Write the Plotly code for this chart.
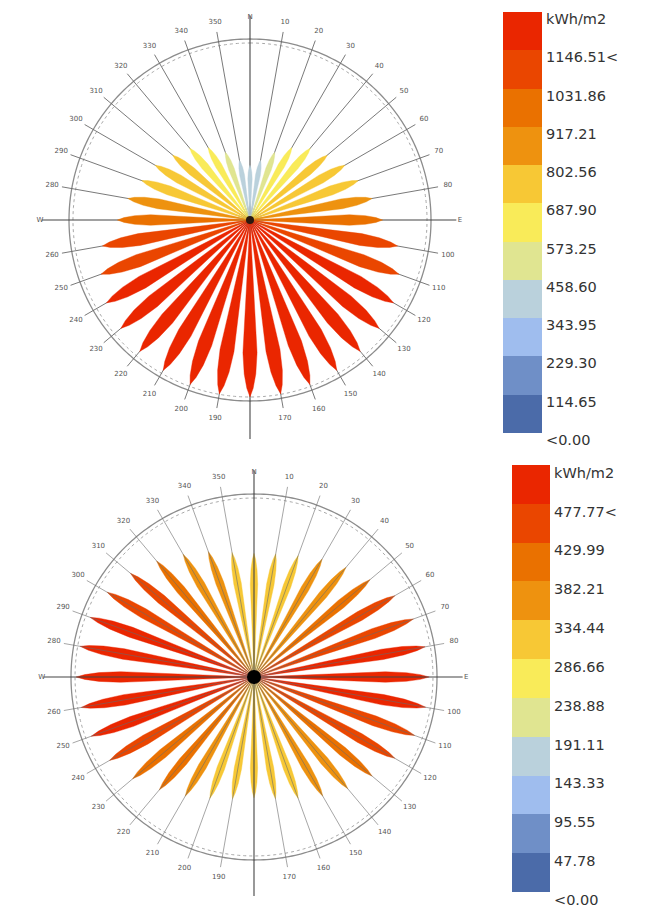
import numpy as np
import plotly.graph_objects as go

# ---------------- data ----------------
directions = list(range(0, 360, 10))
cardinals = {0: "N", 90: "E", 180: "S", 270: "W"}
dir_labels = [cardinals.get(d, str(d)) for d in directions]

# upper rose (clockwise from North, every 10 degrees)
top_values = [380, 420, 500, 580, 650, 700, 760, 800, 860, 920, 1040, 1100,
              1150, 1170, 1190, 1205, 1215, 1225, 1228, 1225, 1215, 1205, 1190, 1170,
              1150, 1100, 1040, 920, 860, 800, 760, 700, 650, 580, 500, 420]
top_bounds = [0.00, 114.65, 229.30, 343.95, 458.60, 573.25, 687.90, 802.56,
              917.21, 1031.86, 1146.51]

# lower rose
bottom_values = [300, 305, 320, 345, 370, 400, 440, 465, 480, 485, 482, 470,
                 440, 410, 380, 350, 320, 300, 290, 300, 320, 350, 385, 425,
                 455, 478, 486, 495, 490, 482, 465, 435, 400, 365, 335, 310]
bottom_bounds = [0.00, 47.78, 95.55, 143.33, 191.11, 238.88, 286.66, 334.44,
                 382.21, 429.99, 477.77]

unit_label = "kWh/m2"

# ---------------- style ----------------
BIN_COLORS = ["rgb(75,107,169)", "rgb(111,143,199)", "rgb(159,189,238)",
              "rgb(186,209,220)", "rgb(224,229,145)", "rgb(249,235,89)",
              "rgb(247,200,53)", "rgb(238,146,15)", "rgb(234,113,0)",
              "rgb(234,70,0)", "rgb(234,38,0)"]
W, H = 652, 911
FONT = "DejaVu Sans"

charts = [
    dict(values=top_values, bounds=top_bounds, cx=250, cy=220, R=181, Rr=219,
         Lmax=177, L0=0, hw=0.040, subplot="polar", spokes_on_top=False,
         dot_color="#2a1a10", dot_size=8, s_lab=1.24, lab_off=0.18,
         leg_x=(503, 542), leg_top=12, leg_bot=433, xa="x", ya="y"),
    dict(values=bottom_values, bounds=bottom_bounds, cx=254, cy=677, R=183, Rr=219,
         Lmax=178, L0=40, hw=0.030, subplot="polar2", spokes_on_top=True,
         dot_color="#000000", dot_size=14, s_lab=1.23, lab_off=0.2,
         leg_x=(512, 550), leg_top=465, leg_bot=892, xa="x2", ya="y2"),
]

fig = go.Figure()


def petal(theta, L, hwf):
    s = np.array([0, .25, .5, .75, .87, .95, 1.0])
    g = np.array([0, .33, .66, 1.0, .82, .45, 0.0])
    along = s * L
    half = hwf * L * g
    r = np.sqrt(along ** 2 + half ** 2)
    dang = np.degrees(np.arctan2(half, np.maximum(along, 1e-9)))
    rr = np.concatenate([r, r[::-1]])
    tt = np.concatenate([theta + dang, (theta - dang)[::-1]])
    return rr, tt


for c in charts:
    sp = c["subplot"]
    R = c["R"]
    vals = np.array(c["values"], dtype=float)
    bins = np.clip(np.searchsorted(c["bounds"], vals, side="right") - 1, 0, 10)
    vmax = vals.max()
    lengths = c["L0"] + (c["Lmax"] - c["L0"]) * vals / vmax

    # ring (double circle)
    ring_t = np.arange(0, 361, 1)
    fig.add_trace(go.Scatterpolar(r=np.full(ring_t.size, R), theta=ring_t, mode="lines",
                                  line=dict(color="#8c8c8c", width=1.3), subplot=sp,
                                  hoverinfo="skip"))
    fig.add_trace(go.Scatterpolar(r=np.full(ring_t.size, R * 0.978), theta=ring_t, mode="lines",
                                  line=dict(color="#a8a8a8", width=1, dash="dot"), subplot=sp,
                                  hoverinfo="skip"))

    # spokes
    def add_spokes(top):
        rs, ts = [], []
        for d in directions:
            if d in cardinals:
                continue
            rs += [0, R * 1.055, None]
            ts += [d, d, None]
        fig.add_trace(go.Scatterpolar(r=rs, theta=ts, mode="lines",
                                      line=dict(color="#6a6a6a", width=0.6 if top else 0.9),
                                      subplot=sp, hoverinfo="skip"))
        ext = {0: 1.13, 90: 1.14, 180: 1.21, 270: 1.15}
        rs, ts = [], []
        for d, e in ext.items():
            rs += [0, R * e, None]
            ts += [d, d, None]
        fig.add_trace(go.Scatterpolar(r=rs, theta=ts, mode="lines",
                                      line=dict(color="#444444", width=1.1), subplot=sp,
                                      hoverinfo="skip"))

    if not c["spokes_on_top"]:
        add_spokes(False)

    # petals
    for d, L, b in zip(directions, lengths, bins):
        rr, tt = petal(d, L, c["hw"])
        fig.add_trace(go.Scatterpolar(r=rr, theta=tt, mode="lines", fill="toself",
                                      fillcolor=BIN_COLORS[b],
                                      line=dict(color=BIN_COLORS[b], width=0.4),
                                      subplot=sp, hoverinfo="skip"))

    if c["spokes_on_top"]:
        add_spokes(True)

    # center dot
    fig.add_trace(go.Scatterpolar(r=[0], theta=[0], mode="markers",
                                  marker=dict(color=c["dot_color"], size=c["dot_size"]),
                                  subplot=sp, hoverinfo="skip"))

    # direction labels
    lab_r = []
    for d in directions:
        if d == 0:
            lab_r.append(R * 1.12)
        elif d == 180:
            lab_r.append(R * c["s_lab"])
        elif d in (90, 270):
            lab_r.append(R * 1.16)
        else:
            lab_r.append(R * 1.11)
    fig.add_trace(go.Scatterpolar(r=lab_r, theta=directions, mode="text", text=dir_labels,
                                  textfont=dict(family=FONT, size=7, color="#555555"),
                                  cliponaxis=False, subplot=sp, hoverinfo="skip"))

    # polar layout
    cx, cy, Rr = c["cx"], c["cy"], c["Rr"]
    cyb = H - cy
    fig.update_layout(**{sp: dict(
        domain=dict(x=[(cx - Rr) / W, (cx + Rr) / W],
                    y=[max(0, (cyb - Rr) / H), min(1, (cyb + Rr) / H)]),
        bgcolor="white",
        radialaxis=dict(visible=False, range=[0, Rr]),
        angularaxis=dict(direction="clockwise", rotation=90, showline=False,
                         showgrid=False, showticklabels=False, ticks=""),
    )})

    # legend (discrete color bar) as a heatmap column
    nb = len(c["bounds"])
    z = [[i] for i in range(nb)]
    ycent = [i + 0.5 for i in range(nb)]
    cs = []
    for i, col in enumerate(BIN_COLORS):
        cs.append([i / nb, col])
        cs.append([(i + 1) / nb, col])
    fig.add_trace(go.Heatmap(z=z, x=[0], y=ycent, colorscale=cs, zmin=-0.5, zmax=nb - 0.5,
                             showscale=False, xaxis=c["xa"], yaxis=c["ya"], hoverinfo="skip"))
    b = c["bounds"]
    ticktext = [unit_label, f"{b[-1]:.2f}<"] + [f"{v:.2f}" for v in b[-2:0:-1]] + [f"<{b[0]:.2f}"]
    tickvals = [nb - k - c["lab_off"] for k in range(nb + 1)]
    px_per_bin = (c["leg_bot"] - c["leg_top"]) / nb
    lo = -0.45
    bot_px = c["leg_bot"] - lo * px_per_bin
    axx = "xaxis" if c["xa"] == "x" else "xaxis2"
    axy = "yaxis" if c["ya"] == "y" else "yaxis2"
    fig.update_layout(**{
        axx: dict(domain=[c["leg_x"][0] / W, c["leg_x"][1] / W], visible=False,
                  range=[-0.5, 0.5], fixedrange=True),
        axy: dict(domain=[max(0, (H - bot_px) / H), (H - c["leg_top"]) / H],
                  range=[lo, nb], side="right", showgrid=False, zeroline=False,
                  showline=False, ticks="", tickvals=tickvals, ticktext=ticktext,
                  ticklabelstandoff=3,
                  tickfont=dict(family=FONT, size=14.5, color="#333333"),
                  anchor=c["xa"], fixedrange=True),
    })

fig.update_layout(width=W, height=H, margin=dict(l=0, r=0, t=0, b=0),
                  paper_bgcolor="white", plot_bgcolor="white", showlegend=False)

fig.write_html("out.html", config={"displayModeBar": False, "staticPlot": True},
               post_script="document.body.style.margin='0px';"
                           "document.body.style.overflow='hidden';")
